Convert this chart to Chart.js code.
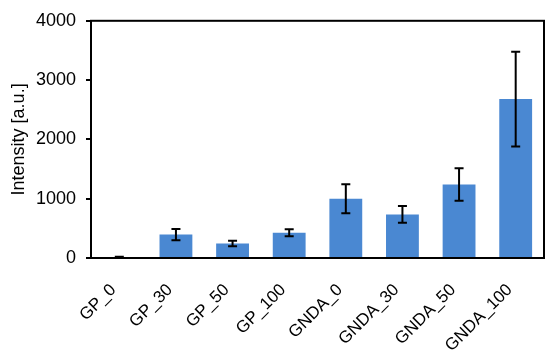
<!DOCTYPE html>
<html>
<head>
<meta charset="utf-8">
<script src="https://cdn.jsdelivr.net/npm/chart.js@4.4.0/dist/chart.umd.min.js"></script>
<style>
  html, body { margin: 0; padding: 0; background: #fff; }
  #wrap { width: 550px; height: 354px; }
</style>
</head>
<body>
<div id="wrap"><canvas id="chart"></canvas></div>
<script>
var categories = ['GP_0', 'GP_30', 'GP_50', 'GP_100', 'GNDA_0', 'GNDA_30', 'GNDA_50', 'GNDA_100'];
var intensity = [10, 395, 245, 425, 1000, 735, 1240, 2680];
var errors = [10, 95, 45, 60, 245, 140, 275, 800];
var yTicks = [0, 1000, 2000, 3000, 4000];

// error bars + box around the plot area
var errorBarPlugin = {
    id: 'errorBars',
    afterDatasetsDraw: function (chart) {
        var ctx = chart.ctx;
        var x = chart.scales.x;
        var y = chart.scales.y;
        ctx.save();
        ctx.strokeStyle = '#000';
        ctx.lineWidth = 2;
        for (var i = 0; i < intensity.length; i++) {
            var cx = x.getPixelForValue(i);
            var top = y.getPixelForValue(intensity[i] + errors[i]);
            var bot = y.getPixelForValue(Math.max(intensity[i] - errors[i], 0));
            ctx.beginPath();
            ctx.moveTo(cx, top);
            ctx.lineTo(cx, bot);
            ctx.moveTo(cx - 4.5, top);
            ctx.lineTo(cx + 4.5, top);
            ctx.moveTo(cx - 4.5, bot);
            ctx.lineTo(cx + 4.5, bot);
            ctx.stroke();
        }
        var a = chart.chartArea;
        ctx.lineWidth = 2;
        ctx.strokeRect(a.left, a.top, a.right - a.left, a.bottom - a.top);
        ctx.restore();
    }
};

var ctx = document.getElementById('chart').getContext('2d');
var chart = new Chart(ctx, {
    type: 'bar',
    data: {
        labels: categories,
        datasets: [{
            data: intensity,
            backgroundColor: '#4a88d2',
            categoryPercentage: 1,
            barPercentage: 0.58
        }]
    },
    options: {
        responsive: true,
        maintainAspectRatio: false,
        animation: false,
        layout: { padding: { top: 15, right: 6, left: 0, bottom: 0 } },
        plugins: {
            legend: { display: false },
            tooltip: { enabled: false }
        },
        scales: {
            x: {
                grid: { display: false },
                border: { display: false },
                ticks: {
                    color: '#000',
                    font: { family: 'Liberation Sans, Arial', size: 17 },
                    minRotation: 45,
                    maxRotation: 45,
                    padding: 14,
                    labelOffset: -6
                },
                afterFit: function (s) { s.height = 96; }
            },
            y: {
                min: 0,
                max: 4000,
                afterBuildTicks: function (s) {
                    s.ticks = yTicks.map(function (v) { return { value: v }; });
                },
                grid: {
                    drawOnChartArea: false,
                    drawTicks: true,
                    tickLength: 5,
                    color: '#000',
                    lineWidth: 2
                },
                border: { display: false },
                ticks: {
                    color: '#000',
                    font: { family: 'Liberation Sans, Arial', size: 18 },
                    padding: 10,
                    callback: function (v) { return String(v); }
                },
                title: {
                    display: true,
                    text: 'Intensity [a.u.]',
                    color: '#000',
                    font: { family: 'Liberation Sans, Arial', size: 18 },
                    padding: { top: 8, bottom: 0 }
                },
                afterFit: function (s) { s.width = 91; }
            }
        }
    },
    plugins: [errorBarPlugin]
});
</script>
</body>
</html>
